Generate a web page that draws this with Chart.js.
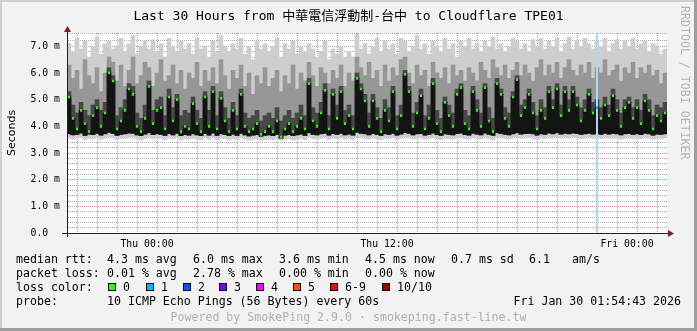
<!DOCTYPE html>
<html>
<head>
<meta charset="utf-8">
<title>SmokePing - Cloudflare TPE01</title>
<script src="https://cdn.jsdelivr.net/npm/chart.js@4.4.1/dist/chart.umd.min.js"></script>
<style>
  html, body { margin: 0; padding: 0; background: #f2f2f2; }
  canvas { display: block; }
</style>
</head>
<body>
<canvas id="smoke" width="697" height="331"></canvas>
<script>
// ---------------------------------------------------------------
// data: 150 steps of 12 min, Wed 20:00 -> Fri 02:00
// x in hours relative to Thu 00:00, values in ms
// ---------------------------------------------------------------
const startHour = -4;
const stepHours = 0.2;

const pingMin = [
  3.55,3.52,3.56,3.58,3.50,3.54,3.53,3.57,3.51,3.55,
  3.59,3.56,3.50,3.54,3.55,3.57,3.56,3.52,3.49,3.54,
  3.58,3.53,3.55,3.54,3.50,3.56,3.52,3.57,3.49,3.53,
  3.51,3.55,3.52,3.49,3.56,3.51,3.57,3.50,3.55,3.53,
  3.49,3.54,3.50,3.56,3.52,3.48,3.51,3.53,3.48,3.50,
  3.52,3.49,3.54,3.48,3.51,3.53,3.49,3.52,3.55,3.50,
  3.58,3.54,3.52,3.55,3.57,3.51,3.56,3.54,3.57,3.52,
  3.55,3.51,3.60,3.57,3.55,3.52,3.56,3.54,3.50,3.55,
  3.54,3.57,3.51,3.55,3.59,3.57,3.52,3.55,3.56,3.51,
  3.54,3.58,3.53,3.50,3.55,3.54,3.52,3.56,3.58,3.53,
  3.51,3.57,3.55,3.52,3.58,3.54,3.50,3.59,3.56,3.54,
  3.52,3.55,3.59,3.55,3.56,3.57,3.55,3.51,3.55,3.54,
  3.58,3.55,3.59,3.55,3.57,3.55,3.58,3.56,3.54,3.55,
  3.57,3.55,3.56,3.54,3.57,3.55,3.56,3.55,3.52,3.55,
  3.56,3.54,3.55,3.53,3.57,3.55,3.51,3.55,3.54,3.55
];
const pingLow = [
  3.72,3.68,3.70,3.75,3.66,3.71,3.69,3.74,3.67,3.72,
  3.78,3.73,3.66,3.70,3.72,3.75,3.74,3.68,3.65,3.71,
  3.76,3.69,3.72,3.70,3.66,3.73,3.68,3.74,3.65,3.69,
  3.67,3.72,3.68,3.65,3.73,3.67,3.75,3.66,3.72,3.69,
  3.65,3.71,3.66,3.74,3.68,3.64,3.67,3.69,3.63,3.66,
  3.68,3.65,3.70,3.56,3.67,3.69,3.65,3.68,3.71,3.66,
  3.76,3.70,3.68,3.72,3.74,3.67,3.73,3.70,3.74,3.68,
  3.71,3.67,3.78,3.74,3.72,3.68,3.73,3.70,3.66,3.72,
  3.70,3.74,3.67,3.71,3.77,3.74,3.68,3.72,3.73,3.67,
  3.70,3.75,3.69,3.66,3.72,3.70,3.68,3.73,3.75,3.69,
  3.67,3.74,3.71,3.68,3.75,3.70,3.66,3.76,3.73,3.70,
  3.68,3.72,3.76,3.71,3.73,3.74,3.72,3.67,3.72,3.70,
  3.75,3.72,3.76,3.71,3.74,3.72,3.75,3.73,3.70,3.72,
  3.74,3.71,3.73,3.70,3.74,3.71,3.73,3.72,3.68,3.72,
  3.73,3.70,3.72,3.69,3.74,3.72,3.67,3.71,3.70,3.72
];
const median = [
  5.1,4.3,3.9,4.6,4.1,3.8,4.4,4.7,4.0,4.5,
  6.0,5.7,3.9,4.2,4.6,5.4,5.2,4.0,3.8,4.3,
  5.5,4.1,4.6,4.7,3.9,5.1,4.2,5.0,3.8,4.0,
  3.9,4.85,4.1,3.8,5.1,4.0,5.3,3.9,5.05,4.2,
  3.8,4.6,3.9,5.2,4.0,3.8,3.9,4.1,3.7,3.8,
  4.0,3.8,4.2,3.6,3.9,4.1,3.8,4.0,4.3,3.9,
  5.6,4.2,4.0,4.5,5.35,3.9,5.2,4.3,5.3,4.1,
  4.4,3.9,5.8,5.4,4.95,4.0,4.95,4.3,3.8,4.6,
  4.2,5.3,3.9,4.4,5.95,5.3,4.0,4.5,5.15,3.9,
  4.3,5.6,4.1,3.8,4.9,4.4,4.0,5.2,5.45,4.1,
  3.9,5.3,4.6,4.0,5.45,4.2,3.8,5.6,5.2,4.3,
  4.0,5.1,5.75,4.4,4.7,5.2,4.5,3.9,4.6,4.3,
  5.3,4.7,5.4,4.4,5.3,4.6,5.3,4.8,4.2,4.6,
  5.2,4.5,4.7,4.3,4.8,4.4,5.15,4.6,4.0,4.7,
  4.9,4.3,4.7,4.1,4.95,4.6,3.9,4.4,4.2,4.5
];
const pingUpper = [
  5.3,4.8,4.5,4.9,4.6,4.4,4.8,5.0,4.6,4.9,
  6.2,5.9,4.4,4.7,5.0,5.6,5.5,4.5,4.3,4.8,
  5.7,4.6,5.0,5.1,4.4,5.4,4.7,5.2,4.4,4.6,
  4.5,5.1,4.6,4.3,5.3,4.6,5.5,4.4,5.3,4.7,
  4.3,4.9,4.4,5.4,4.5,4.3,4.4,4.6,4.2,4.4,
  4.5,4.3,4.7,4.2,4.4,4.6,4.3,4.5,4.8,4.4,
  5.8,4.7,4.5,4.9,5.6,4.4,5.4,4.8,5.5,4.6,
  4.8,4.4,6.0,5.6,5.2,4.5,5.2,4.7,4.3,5.0,
  4.7,5.5,4.4,4.8,6.1,5.5,4.5,4.9,5.4,4.4,
  4.8,5.8,4.6,4.3,5.1,4.8,4.5,5.4,5.6,4.6,
  4.4,5.5,5.0,4.5,5.6,4.7,4.3,5.8,5.4,4.7,
  4.5,5.3,5.9,4.8,5.0,5.4,4.9,4.4,5.0,4.7,
  5.5,5.0,5.6,4.8,5.5,5.0,5.5,5.1,4.7,5.0,
  5.4,4.9,5.0,4.7,5.1,4.8,5.4,5.0,4.5,5.0,
  5.1,4.7,5.0,4.6,5.2,5.0,4.4,4.8,4.7,4.9
];
const pingHigh = [
  6.3,5.8,6.1,5.4,6.5,5.9,5.6,6.2,5.3,6.0,
  6.6,6.4,5.7,6.3,5.5,6.1,6.6,5.6,5.9,6.4,
  6.2,5.5,6.0,6.5,5.7,5.9,6.3,5.6,6.1,5.4,
  6.0,5.8,6.4,5.5,6.1,5.7,6.2,5.6,6.5,5.9,
  5.4,6.1,5.8,6.3,5.5,6.0,5.2,5.9,5.6,6.2,
  5.5,5.8,6.1,5.3,5.9,5.6,6.3,5.4,6.0,5.7,
  6.4,5.9,5.5,6.2,6.0,5.6,6.1,5.8,6.3,5.5,
  6.0,5.7,6.6,6.2,5.9,6.4,5.8,6.1,5.5,6.3,
  5.7,6.2,5.9,6.5,6.6,6.0,5.6,6.3,5.9,6.1,
  5.5,6.4,6.0,5.8,6.2,5.6,6.3,5.9,6.1,5.7,
  6.2,6.0,5.7,6.4,6.1,5.8,6.5,6.2,5.9,6.3,
  5.8,6.1,6.4,5.9,6.3,6.0,5.7,6.2,6.5,5.9,
  6.3,6.0,6.4,5.8,6.2,6.5,6.1,5.9,6.3,6.0,
  6.4,5.8,6.2,6.0,6.5,5.9,6.1,6.3,5.7,6.2,
  6.0,6.4,5.8,6.2,6.0,6.3,5.9,6.1,5.6,6.0
];
const pingMax = [
  7.1,6.8,7.3,6.9,7.2,6.6,7.0,7.35,6.7,7.1,
  7.2,6.9,7.0,7.3,6.8,7.1,7.4,6.7,7.0,7.2,
  6.9,7.25,6.8,7.1,6.6,7.3,7.0,6.8,7.2,6.9,
  7.1,6.7,7.3,6.9,7.0,6.6,7.2,6.8,7.4,7.0,
  6.8,7.1,6.9,7.3,6.7,7.0,6.5,7.2,6.9,7.1,
  6.8,7.0,7.3,6.6,7.1,6.9,7.2,6.7,7.0,6.8,
  7.1,6.9,6.6,6.8,7.2,6.5,6.9,6.7,7.0,6.6,
  6.8,6.6,7.45,6.9,7.1,6.7,7.0,7.3,6.8,7.2,
  6.9,7.1,6.7,7.3,7.2,6.8,7.0,7.4,6.9,7.1,
  6.7,7.2,7.0,6.8,7.3,6.9,7.1,6.6,7.2,7.0,
  7.3,6.9,7.1,6.8,7.2,7.0,7.35,6.9,7.1,6.8,
  7.0,7.3,7.2,6.9,7.1,6.8,7.25,7.0,7.3,6.9,
  7.2,7.0,7.3,6.8,7.1,7.35,6.9,7.2,7.0,7.3,
  7.1,6.9,7.2,7.0,7.3,6.8,7.1,7.25,6.9,7.2,
  7.0,7.3,6.9,7.1,7.2,6.8,7.1,7.0,6.7,6.9
];
// steps with packet loss (lost pings out of 10)
const lossSteps = [132];
const lossCounts = [1];

const xTickHours = [0, 12, 24];
const xTickNames = ['Thu 00:00', 'Thu 12:00', 'Fri 00:00'];
const yTickNames = ['0.0  ', '1.0 m', '2.0 m', '3.0 m', '4.0 m', '5.0 m', '6.0 m', '7.0 m'];

const titleText = 'Last 30 Hours from 中華電信浮動制-台中 to Cloudflare TPE01';
const rttStats = ['4.3 ms avg', '6.0 ms max', '3.6 ms min', '4.5 ms now', '0.7 ms sd', '6.1', 'am/s'];
const lossStats = ['0.01 % avg', '2.78 % max', '0.00 % min', '0.00 % now'];
const lossLabels = ['0', '1', '2', '3', '4', '5', '6-9', '10/10'];
const lossColors = ['#26ff00', '#00b8ff', '#0059ff', '#7e00ff', '#ff00ff', '#ff5500', '#ff0000', '#a10000'];
const probeText = '10 ICMP Echo Pings (56 Bytes) every 60s';
const stampText = 'Fri Jan 30 01:54:43 2026';
const footerText = 'Powered by SmokePing 2.9.0 · smokeping.fast-line.tw';
const sideText = 'RRDTOOL / TOBI OETIKER';

// ---------------------------------------------------------------
// build datasets
// ---------------------------------------------------------------
const xs = median.map((_, i) => startHour + (i + 0.5) * stepHours);
const band = (lo, hi) => xs.map((x, i) => ({ x, y: [lo[i], hi[i]] }));

const lossAt = new Map(lossSteps.map((s, k) => [s, lossCounts[k]]));
const lossColorIdx = n => (n === 0 ? 0 : n <= 5 ? n : n < 10 ? 6 : 7);
const medianColors = median.map((_, i) => lossColors[lossColorIdx(lossAt.get(i) || 0)]);

const MONO = '"DejaVu Sans Mono", "Noto Sans CJK TC", monospace';
const GRID_MINOR = 'rgba(143,143,143,0.75)';
const GRID_MAJOR = 'rgba(222,79,79,0.6)';

const backdrop = {
  id: 'backdrop',
  beforeDraw(chart) {
    const { ctx, chartArea: a } = chart;
    ctx.save();
    ctx.fillStyle = '#f2f2f2';
    ctx.fillRect(0, 0, chart.width, chart.height);
    ctx.fillStyle = '#ffffff';
    ctx.fillRect(a.left, a.top, a.right - a.left, a.bottom - a.top);
    ctx.restore();
  }
};

const decorations = {
  id: 'decorations',
  afterDraw(chart) {
    const { ctx, chartArea: a } = chart;
    ctx.save();

    // axis lines, extensions and arrows
    ctx.strokeStyle = '#1f1f1f';
    ctx.lineWidth = 1;
    ctx.beginPath();
    ctx.moveTo(a.left - 5, a.bottom + 0.5); ctx.lineTo(a.right + 1, a.bottom + 0.5);
    ctx.moveTo(a.left + 0.5, a.bottom + 4); ctx.lineTo(a.left + 0.5, a.top - 3);
    ctx.stroke();
    ctx.fillStyle = '#801f1f';
    ctx.beginPath();
    ctx.moveTo(a.right + 1, a.bottom - 3); ctx.lineTo(a.right + 7, a.bottom + 0.5); ctx.lineTo(a.right + 1, a.bottom + 4);
    ctx.closePath(); ctx.fill();
    ctx.beginPath();
    ctx.moveTo(a.left - 3, a.top - 1); ctx.lineTo(a.left + 0.5, a.top - 7); ctx.lineTo(a.left + 4, a.top - 1);
    ctx.closePath(); ctx.fill();

    // title
    ctx.fillStyle = '#000';
    ctx.textBaseline = 'alphabetic';
    ctx.font = '13px ' + MONO;
    ctx.textAlign = 'center';
    ctx.fillText(titleText, 348.5, 20);

    // y axis title
    ctx.save();
    ctx.translate(15, (a.top + a.bottom) / 2);
    ctx.rotate(-Math.PI / 2);
    ctx.font = '11px "DejaVu Sans", sans-serif';
    ctx.fillText('Seconds', 0, 0);
    ctx.restore();

    // legend
    ctx.font = '11.6px ' + MONO;
    ctx.textAlign = 'left';
    const col = [107, 193, 279, 365, 451, 529, 572];
    ctx.fillText('median rtt:', 16, 263);
    rttStats.forEach((t, k) => ctx.fillText(t, col[k], 263));
    ctx.fillText('packet loss:', 16, 277);
    lossStats.forEach((t, k) => ctx.fillText(t, col[k], 277));
    ctx.fillText('loss color:', 16, 291);
    const sw = [108, 146, 183, 219, 256, 293, 330, 382];
    lossLabels.forEach((t, k) => {
      ctx.fillStyle = lossColors[k];
      ctx.fillRect(sw[k], 283, 8, 8);
      ctx.strokeStyle = '#000';
      ctx.strokeRect(sw[k] + 0.5, 283.5, 7, 7);
      ctx.fillStyle = '#000';
      ctx.fillText(t, sw[k] + 15, 291);
    });
    ctx.fillText('probe:', 16, 305);
    ctx.fillText(probeText, 107, 305);
    ctx.textAlign = 'right';
    ctx.fillText(stampText, 681, 305);

    // footer
    ctx.textAlign = 'center';
    ctx.fillStyle = '#b0b0b0';
    ctx.fillText(footerText, 348.5, 321);

    // side watermark
    ctx.save();
    ctx.translate(681, 6);
    ctx.rotate(Math.PI / 2);
    ctx.textAlign = 'left';
    ctx.fillStyle = '#b4b4b4';
    ctx.fillText(sideText, 0, 0);
    ctx.restore();

    // 3d frame
    ctx.fillStyle = '#cfcfcf';
    ctx.fillRect(0, 0, chart.width, 2);
    ctx.fillRect(0, 0, 2, chart.height);
    ctx.fillStyle = '#9e9e9e';
    ctx.fillRect(0, chart.height - 3, chart.width, 3);
    ctx.fillRect(chart.width - 3, 0, 3, chart.height);
    ctx.restore();
  }
};

new Chart(document.getElementById('smoke'), {
  type: 'bar',
  data: {
    datasets: [
      { label: 'median', data: xs.map((x, i) => ({ x, y: [median[i] - 0.05, median[i] + 0.05] })),
        backgroundColor: medianColors, barPercentage: 0.5 },
      { label: 'loss', data: lossSteps.map(s => ({ x: xs[s], y: [0, 7.5] })),
        backgroundColor: '#a6dcf5', barPercentage: 0.5 },
      { label: 'core', data: band(pingLow, median), backgroundColor: '#141414' },
      { label: 'inner', data: band(pingLow, pingUpper), backgroundColor: '#484848' },
      { label: 'mid', data: band(pingLow, pingHigh), backgroundColor: '#979797' },
      { label: 'outer', data: band(pingMin, pingMax), backgroundColor: '#cecece' }
    ]
  },
  options: {
    responsive: false,
    animation: false,
    events: [],
    devicePixelRatio: 1,
    layout: { padding: { top: 33, right: 30, left: 0, bottom: 0 } },
    plugins: { legend: { display: false }, tooltip: { enabled: false }, title: { display: false } },
    datasets: { bar: { grouped: false, categoryPercentage: 1, barPercentage: 1, borderWidth: 0 } },
    scales: {
      x: {
        type: 'linear', min: -4, max: 26, offset: false,
        afterFit: s => { s.height = 98; },
        ticks: {
          stepSize: 1, autoSkip: false, maxRotation: 0, padding: 6, color: '#000',
          font: { family: MONO, size: 9.8 },
          callback: v => { const k = xTickHours.indexOf(v); return k < 0 ? '' : xTickNames[k]; }
        },
        grid: { drawTicks: false, lineWidth: 1,
          color: c => (c.tick && c.tick.value % 6 === 0 ? GRID_MAJOR : GRID_MINOR) },
        border: { display: true, color: '#1f1f1f', width: 1, dash: [1, 1], z: 1 }
      },
      y: {
        min: 0, max: 7.5,
        afterFit: s => { s.width = 67; },
        ticks: {
          stepSize: 0.2, autoSkip: false, padding: 7, color: '#000',
          font: { family: MONO, size: 9.8 },
          callback: v => { const r = Math.round(v); return Math.abs(v - r) < 1e-6 ? yTickNames[r] : ''; }
        },
        grid: { drawTicks: false, lineWidth: 1,
          color: c => { const v = c.tick ? c.tick.value : 0; return Math.abs(v - Math.round(v)) < 1e-6 ? GRID_MAJOR : GRID_MINOR; } },
        border: { display: true, color: '#1f1f1f', width: 1, dash: [1, 1], z: 1 }
      }
    }
  },
  plugins: [backdrop, decorations]
});
</script>
</body>
</html>
